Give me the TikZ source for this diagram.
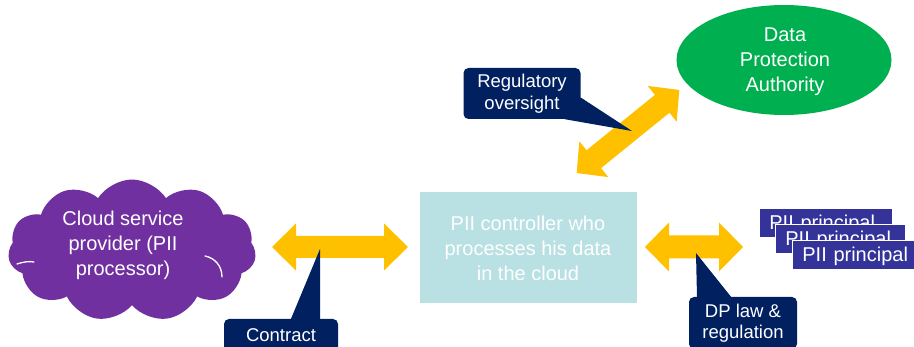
\documentclass[tikz,border=0pt]{standalone}
\usepackage{fontspec}
\setmainfont{Liberation Sans}
\usetikzlibrary{shapes.symbols,shapes.geometric}
\definecolor{cspurple}{HTML}{7030A0}
\definecolor{arrowyellow}{HTML}{FFC000}
\definecolor{calloutnavy}{HTML}{002060}
\definecolor{dpagreen}{HTML}{00B050}
\definecolor{ctrlteal}{HTML}{B9E0E2}
\definecolor{piiblue}{HTML}{333399}
\newcommand\DblArrow[7]{%
  \begin{scope}[shift={(#1,#2)},rotate=#3]
    \fill[arrowyellow] (-#4/2,0) -- (-#4/2+#7,#6/2) -- (-#4/2+#7,#5/2) -- (#4/2-#7,#5/2)
      -- (#4/2-#7,#6/2) -- (#4/2,0) -- (#4/2-#7,-#6/2) -- (#4/2-#7,-#5/2)
      -- (-#4/2+#7,-#5/2) -- (-#4/2+#7,-#6/2) -- cycle;
  \end{scope}}
\tikzset{
  bigtext/.style={text=white, align=center, font=\fontsize{20}{25}\selectfont, inner sep=0pt},
  calloutbox/.style={fill=calloutnavy, rounded corners=5pt, text=white, align=center,
    font=\fontsize{18.5}{21.5}\selectfont, inner sep=0pt},
  calloutptr/.style={fill=calloutnavy},
  piibox/.style={fill=piiblue, draw=white, line width=0.8pt, text=white, anchor=west,
    minimum height=29pt, inner xsep=0pt, inner ysep=0pt, align=left,
    text height=14pt, text depth=0pt, font=\fontsize{20}{24}\selectfont},
  puffline/.style={draw=white, line width=1.3pt, line cap=round},
}
\begin{document}
\begin{tikzpicture}[x=1pt,y=-1pt]
\clip (0,0) rectangle (914,347);
\fill[white] (0,0) rectangle (914,347);

% cloud
\node[cloud, cloud puffs=11, cloud puff arc=115, aspect=1.8, fill=cspurple,
  minimum width=248pt, minimum height=142pt, inner sep=0pt] (cloud) at (132,250.5) {};
\draw[puffline] (205,256) .. controls (215,258) and (222,266) .. (222,277);
\draw[puffline] (17,264) .. controls (23,262) and (29,261) .. (34,262);
\node[bigtext] (cloudtext) at (123,245) {Cloud service\\provider (PII\\processor)};

% controller box
\node[fill=ctrlteal, minimum width=217pt, minimum height=111pt, inner sep=0pt] (ctrl) at (528.5,247.5) {};
\node[bigtext] (ctrltext) at (528,248) {PII controller who\\processes his data\\in the cloud};

% DPA
\node[ellipse, fill=dpagreen, minimum width=215pt, minimum height=110pt, inner sep=0pt] (dpa) at (784,60) {};
\node[bigtext] (dpatext) at (785,62) {Data\\Protection\\Authority};

% arrows
\DblArrow{340}{247}{0}{136}{22}{47}{24}
\DblArrow{694}{247}{0}{98}{23}{49}{24}
\DblArrow{628}{131.5}{39}{132}{23}{46}{22}

% callouts
\node[calloutbox, minimum width=117pt, minimum height=51pt] (reg) at (522,93.5) {Regulatory\\oversight};
\coordinate (regtip) at (632,131);
\fill[calloutptr] ([yshift=-4pt]reg.east) -- (regtip) -- ([xshift=-16pt]reg.south east) -- cycle;

\node[calloutbox, minimum width=114pt, minimum height=33pt] (con) at (281,335.5) {Contract};
\coordinate (contip) at (320,249);
\fill[calloutptr] ([xshift=10pt]con.north) -- (contip) -- ([xshift=39pt]con.north) -- cycle;

\node[calloutbox, minimum width=108pt, minimum height=52pt] (dpl) at (743,323) {DP law \&\\regulation};
\coordinate (dpltip) at (696,253);
\fill[calloutptr] ([xshift=-46pt]dpl.north) -- (dpltip) -- ([xshift=-12pt]dpl.north) -- cycle;

% PII principals
\node[piibox, text width=133pt] (p1) at (759,222.5) {\hspace*{10pt}PII principal};
\node[piibox, text width=130pt] (p2) at (775,238.5) {\hspace*{10pt}PII principal};
\node[piibox, text width=122pt] (p3) at (792,254.5) {\hspace*{10pt}PII principal};
\end{tikzpicture}
\end{document}
